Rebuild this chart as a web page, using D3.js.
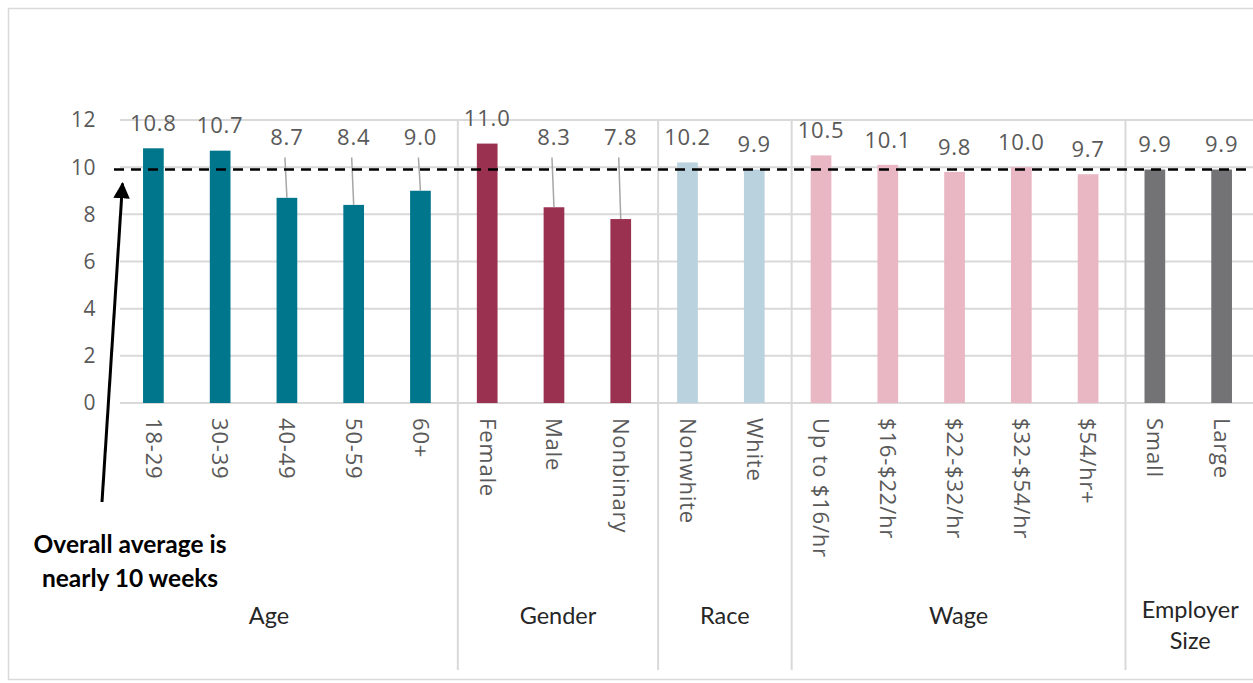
<!DOCTYPE html>
<html>
<head>
<meta charset="utf-8">
<script src="https://cdn.jsdelivr.net/npm/d3@7"></script>
<style>
  html, body { margin: 0; padding: 0; background: #fff; }
  svg { display: block; }
</style>
</head>
<body>
<div id="chart"></div>
<script>
const categories = ['18-29', '30-39', '40-49', '50-59', '60+', 'Female', 'Male', 'Nonbinary', 'Nonwhite', 'White',
  'Up to $16/hr', '$16-$22/hr', '$22-$32/hr', '$32-$54/hr', '$54/hr+', 'Small', 'Large'];
const catGroup = ['Age', 'Age', 'Age', 'Age', 'Age', 'Gender', 'Gender', 'Gender', 'Race', 'Race',
  'Wage', 'Wage', 'Wage', 'Wage', 'Wage', 'Employer Size', 'Employer Size'];
const values = [10.8, 10.7, 8.7, 8.4, 9.0, 11.0, 8.3, 7.8, 10.2, 9.9, 10.5, 10.1, 9.8, 10.0, 9.7, 9.9, 9.9];
const groups = ['Age', 'Gender', 'Race', 'Wage', 'Employer Size'];
const groupColors = ['#00768c', '#9b3151', '#b9d2de', '#e9b6c4', '#737274'];
const yTicks = [0, 2, 4, 6, 8, 10, 12];
const overallAvg = 9.9;
// labels that were dragged above the average line, with a leader line
const leaderCats = ['40-49', '50-59', '60+', 'Male', 'Nonbinary'];

const W = 1253, H = 683;
const svg = d3.select('#chart').append('svg').attr('width', W).attr('height', H);

const color = d3.scaleOrdinal().domain(groups).range(groupColors);
const x = d3.scaleBand().domain(categories).range([120, 1255]).paddingInner(0.69).paddingOuter(0.345);
const y = d3.scaleLinear().domain([0, 12]).range([403, 120]);
const numFont = '"Open Sans", sans-serif';
const txtFont = 'Lato, "Open Sans", sans-serif';

// chart frame
svg.append('rect').attr('x', 8.5).attr('y', 8.5).attr('width', W + 10).attr('height', 671)
  .attr('fill', 'none').attr('stroke', '#d9d9d9').attr('stroke-width', 1.5);

// gridlines
svg.append('g').selectAll('line').data(yTicks).join('line')
  .attr('x1', 120).attr('x2', W).attr('y1', d => y(d)).attr('y2', d => y(d))
  .attr('stroke', '#d9d9d9').attr('stroke-width', 2);

// y tick labels
svg.append('g').selectAll('text').data(yTicks).join('text')
  .attr('x', 96).attr('y', d => y(d)).attr('dy', '0.35em').attr('text-anchor', 'end')
  .attr('font-family', numFont).attr('font-size', 21).attr('letter-spacing', 0.5)
  .attr('fill', '#595959').text(d => d);

// group separators (nudged a touch right, as in Excel's multi-level axis)
const groupStart = groups.map(g => categories[catGroup.indexOf(g)]);
const sepX = groupStart.slice(1).map(c => x(c) - x.step() * x.paddingInner() / 2 + 4);
svg.append('g').selectAll('line').data(sepX).join('line')
  .attr('x1', d => d).attr('x2', d => d).attr('y1', y(12)).attr('y2', 670)
  .attr('stroke', '#d9d9d9').attr('stroke-width', 2);

// bars
svg.append('g').selectAll('rect').data(categories).join('rect')
  .attr('x', d => x(d)).attr('width', x.bandwidth())
  .attr('y', (d, i) => y(values[i])).attr('height', (d, i) => y(0) - y(values[i]))
  .attr('fill', (d, i) => color(catGroup[i]));

// data labels
const cx = d => x(d) + x.bandwidth() / 2;
const labelY = (d, i) => leaderCats.includes(d) ? y(overallAvg) - 32 : y(values[i]) - 25;
svg.append('g').selectAll('line').data(categories.filter(c => leaderCats.includes(c))).join('line')
  .attr('x1', d => cx(d) - 2).attr('x2', d => cx(d))
  .attr('y1', d => labelY(d, categories.indexOf(d)) + 20)
  .attr('y2', d => y(values[categories.indexOf(d)]))
  .attr('stroke', '#a6a6a6').attr('stroke-width', 1.5);
svg.append('g').selectAll('text').data(categories).join('text')
  .attr('x', d => cx(d)).attr('y', labelY).attr('dy', '0.35em').attr('text-anchor', 'middle')
  .attr('font-family', numFont).attr('font-size', 22).attr('letter-spacing', 0.8).attr('fill', '#595959')
  .text((d, i) => values[i].toFixed(1));

// average dashed line
svg.append('line').attr('x1', 114).attr('x2', W).attr('y1', y(overallAvg)).attr('y2', y(overallAvg))
  .attr('stroke', '#000').attr('stroke-width', 2.5).attr('stroke-dasharray', '10,7');

// rotated category labels
svg.append('g').selectAll('text').data(categories).join('text')
  .attr('transform', d => `translate(${cx(d)},418) rotate(90)`)
  .attr('dy', '0.35em').attr('text-anchor', 'start')
  .attr('font-family', numFont).attr('font-size', 22).attr('letter-spacing', 0.8)
  .attr('fill', '#595959').text(d => d);

// group labels
const bounds = [80, ...sepX, W + 2];
svg.append('g').selectAll('text').data(groups).join('text')
  .attr('x', (g, i) => (bounds[i] + bounds[i + 1]) / 2)
  .attr('y', g => g === 'Employer Size' ? 612 : 618)
  .attr('text-anchor', 'middle').attr('dominant-baseline', 'middle')
  .attr('font-family', txtFont).attr('font-size', 23.5).attr('fill', '#262626')
  .each(function (g) {
    const words = g.split(' ');
    const t = d3.select(this);
    if (words.length > 1) {
      t.selectAll('tspan').data(words).join('tspan')
        .attr('x', t.attr('x')).attr('dy', (w, j) => j ? 31 : 0).text(w => w);
    } else t.text(g);
  });

// annotation arrow
svg.append('defs').append('marker').attr('id', 'arrow')
  .attr('viewBox', '0 0 10 10').attr('refX', 9).attr('refY', 5)
  .attr('markerWidth', 5.5).attr('markerHeight', 5.5).attr('orient', 'auto')
  .append('path').attr('d', 'M0,0 L10,5 L0,10 z').attr('fill', '#000');
svg.append('line').attr('x1', 102).attr('y1', 502).attr('x2', 122.5).attr('y2', y(overallAvg) + 14)
  .attr('stroke', '#000').attr('stroke-width', 3).attr('marker-end', 'url(#arrow)');

const note = svg.append('text').attr('text-anchor', 'middle')
  .attr('font-family', txtFont).attr('font-weight', 'bold').attr('font-size', 24.5).attr('fill', '#000');
note.append('tspan').attr('x', 130).attr('y', 553).text('Overall average is');
note.append('tspan').attr('x', 130).attr('y', 587).text('nearly 10 weeks');
</script>
</body>
</html>
